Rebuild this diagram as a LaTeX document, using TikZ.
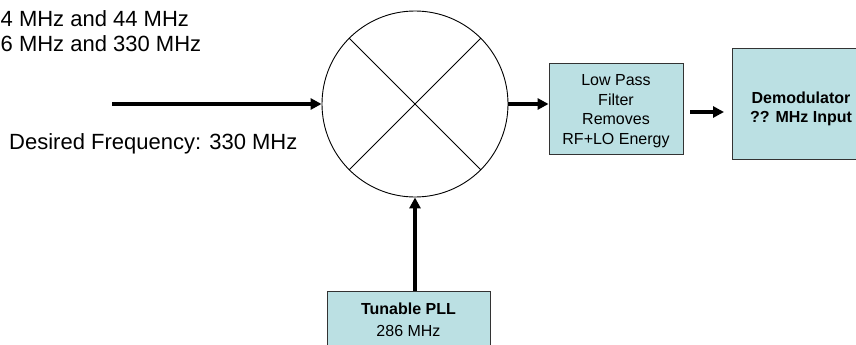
\documentclass[tikz,border=0pt]{standalone}
\usepackage{fontspec}
\setmainfont{Liberation Sans}
\usetikzlibrary{arrows.meta}
\definecolor{boxfill}{HTML}{BBE0E3}
\definecolor{boxline}{HTML}{333333}
\tikzset{
  blk/.style={draw=boxline, line width=0.9pt, fill=boxfill, inner sep=0pt, align=center,
    font=\fontsize{16}{19.5}\selectfont},
  sig/.style={line width=3.2pt, -{Triangle[length=11pt,width=11pt]}},
  bigtxt/.style={font=\fontsize{22}{25}\selectfont, inner sep=0pt, anchor=west}
}
\begin{document}
\begin{tikzpicture}[x=1pt,y=-1pt]
\useasboundingbox (0,0) rectangle (856,345);
\clip (0,0) rectangle (856,345);
% texts
\node[bigtxt] (t1) at (0.5,19) {4 MHz and 44 MHz};
\node[bigtxt] (t2) at (0.5,44) {6 MHz and 330 MHz};
\node[bigtxt] (t3) at (9,144) {Desired Frequency: 330 MHz};
% mixer
\node[draw, circle, line width=0.9pt, minimum size=186pt, inner sep=0pt] (mix) at (415,104) {};
\draw[line width=0.8pt] (mix.135) -- (mix.-45);
\draw[line width=0.8pt] (mix.45) -- (mix.-135);
% boxes
\node[blk, minimum width=134pt, minimum height=91pt] (lpf) at (616,108.5) {\rule{0pt}{16pt}Low Pass\\Filter\\Removes\\RF+LO Energy};
\node[blk, minimum width=138pt, minimum height=111pt, font=\fontsize{16}{18.5}\selectfont\bfseries] (dem) at (801,103.5) {\rule{0pt}{22pt}Demodulator\\?? MHz Input};
\node[blk, minimum width=163pt, minimum height=58pt, font=\fontsize{16}{22}\selectfont] (pll) at (408.5,320) {\textbf{Tunable PLL}\\286 MHz};
% connectors
\coordinate (in) at (112,104);
\draw[sig] (in) -- (mix.west);
\draw[sig] (mix.east) -- (lpf.west |- mix.east);
\coordinate (a1) at (690,112);
\coordinate (a2) at (724,112);
\draw[sig] (a1) -- (a2);
\draw[sig] (mix.south |- pll.north) -- (mix.south);
\end{tikzpicture}
\end{document}
